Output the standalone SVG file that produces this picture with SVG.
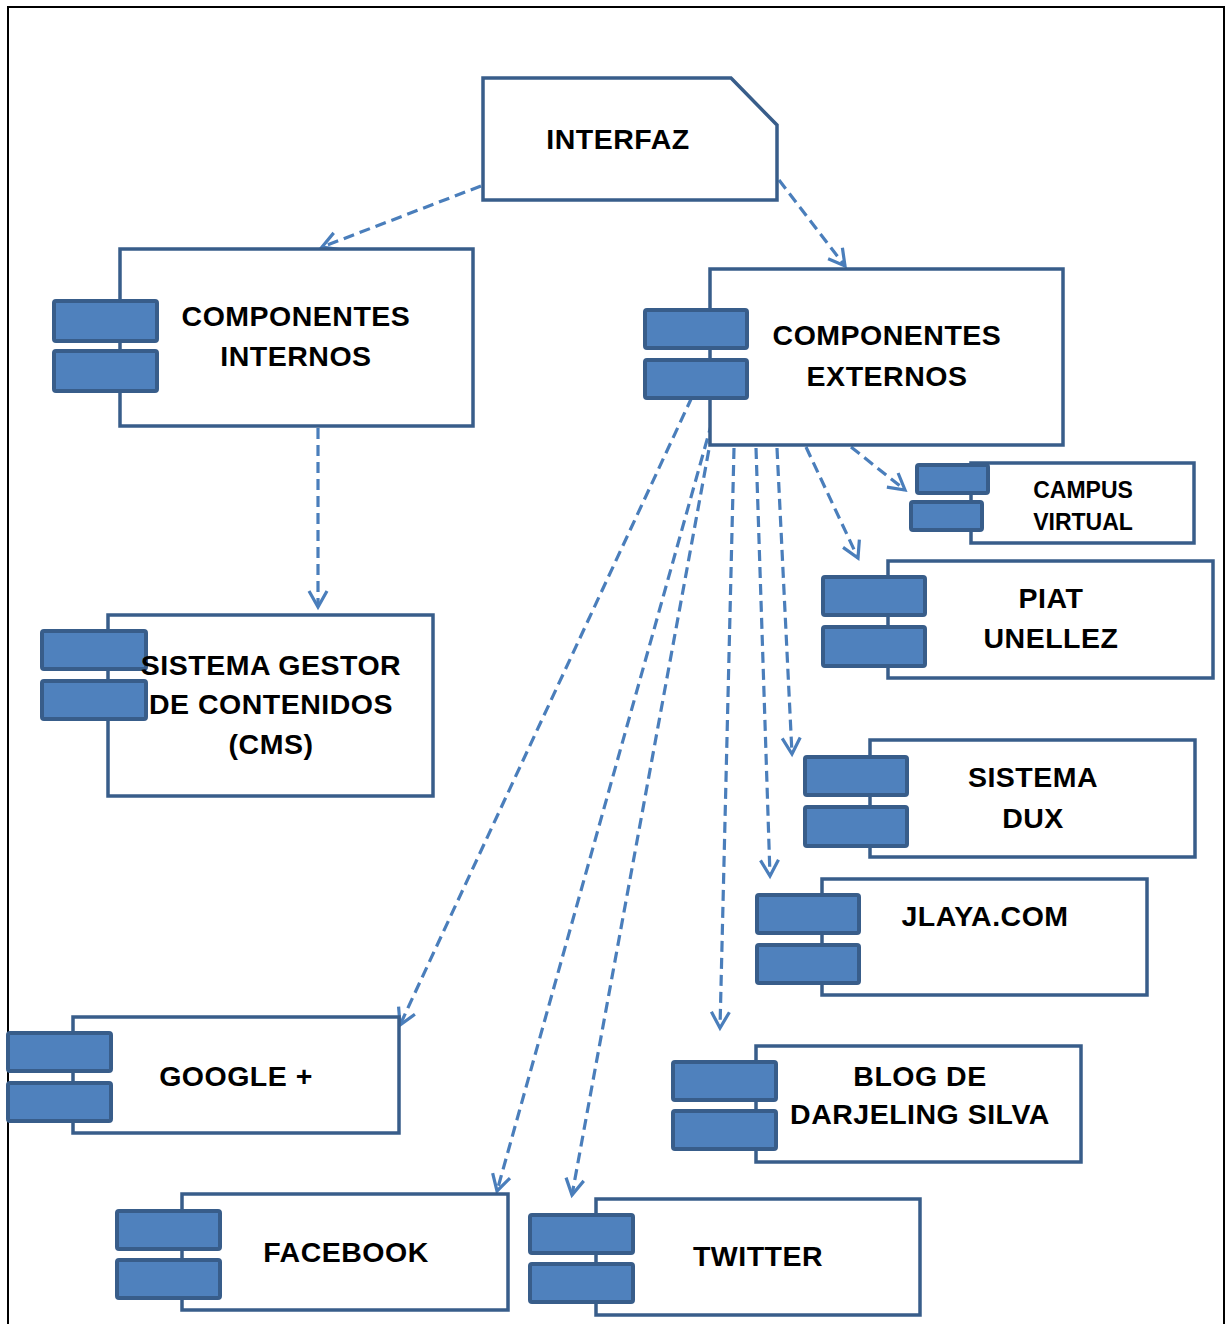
<svg xmlns="http://www.w3.org/2000/svg" width="1227" height="1324" viewBox="0 0 1227 1324">
<style>
.box{fill:#fff;stroke:#385D8A;stroke-width:3.5}
.tab{fill:#4F81BD;stroke:#385D8A;stroke-width:4}
.t{font-family:"Liberation Sans",Arial,sans-serif;font-weight:bold;font-size:28.5px;letter-spacing:0.5px;fill:#000;text-anchor:middle}
.s{font-size:23px;letter-spacing:0}
.c{fill:none;stroke:#4A7EBB;stroke-width:3.2;stroke-dasharray:11 6;marker-end:url(#arr)}
</style>
<defs>
<marker id="arr" markerUnits="userSpaceOnUse" markerWidth="26" markerHeight="26" viewBox="0 0 26 26" refX="18" refY="11" orient="auto">
<path d="M2,2 L18,11 L2,20" fill="none" stroke="#4A7EBB" stroke-width="3.2" stroke-dasharray="none"/>
</marker>
</defs>
<rect width="1227" height="1324" fill="#fff"/>
<path d="M8,1324 V7 H1224 V1324" fill="none" stroke="#000" stroke-width="2"/>

<g id="connectors">
<line class="c" x1="481" y1="186" x2="322" y2="247"/>
<line class="c" x1="779" y1="180" x2="845" y2="266"/>
<line class="c" x1="318" y1="428" x2="318" y2="607"/>
<line class="c" x1="851" y1="447" x2="905" y2="490"/>
<line class="c" x1="806" y1="447" x2="858" y2="558"/>
<line class="c" x1="777" y1="448" x2="792" y2="754"/>
<line class="c" x1="756" y1="448" x2="770" y2="876"/>
<line class="c" x1="734" y1="448" x2="720" y2="1028"/>
<line class="c" x1="692" y1="397" x2="400" y2="1025"/>
<line class="c" x1="712" y1="422" x2="497" y2="1191"/>
<line class="c" x1="718" y1="400" x2="572" y2="1195"/>
</g>

<g id="interfaz">
<path class="box" d="M483,78 H731 L777,125 V200 H483 Z"/>
<text class="t" x="618" y="149">INTERFAZ</text>
</g>

<g id="componentes-internos">
<rect class="box" x="120" y="249" width="353" height="177"/>
<rect class="tab" x="54" y="301" width="103" height="40" rx="2"/>
<rect class="tab" x="54" y="351" width="103" height="40" rx="2"/>
<text class="t" x="296" y="326">COMPONENTES</text>
<text class="t" x="296" y="366">INTERNOS</text>
</g>

<g id="componentes-externos">
<rect class="box" x="710" y="269" width="353" height="176"/>
<rect class="tab" x="645" y="310" width="102" height="38" rx="2"/>
<rect class="tab" x="645" y="360" width="102" height="38" rx="2"/>
<text class="t" x="887" y="345">COMPONENTES</text>
<text class="t" x="887" y="386">EXTERNOS</text>
</g>

<g id="campus-virtual">
<rect class="box" x="971" y="463" width="223" height="80"/>
<rect class="tab" x="917" y="465" width="71" height="28" rx="2"/>
<rect class="tab" x="911" y="502" width="71" height="28" rx="2"/>
<text class="t s" x="1083" y="498">CAMPUS</text>
<text class="t s" x="1083" y="530">VIRTUAL</text>
</g>

<g id="piat-unellez">
<rect class="box" x="888" y="561" width="325" height="117"/>
<rect class="tab" x="823" y="577" width="102" height="38" rx="2"/>
<rect class="tab" x="823" y="627" width="102" height="39" rx="2"/>
<text class="t" x="1051" y="608">PIAT</text>
<text class="t" x="1051" y="648">UNELLEZ</text>
</g>

<g id="sistema-gestor">
<rect class="box" x="108" y="615" width="325" height="181"/>
<rect class="tab" x="42" y="631" width="104" height="38" rx="2"/>
<rect class="tab" x="42" y="681" width="104" height="38" rx="2"/>
<text class="t" x="271" y="675">SISTEMA GESTOR</text>
<text class="t" x="271" y="714">DE CONTENIDOS</text>
<text class="t" x="271" y="754">(CMS)</text>
</g>

<g id="sistema-dux">
<rect class="box" x="870" y="740" width="325" height="117"/>
<rect class="tab" x="805" y="757" width="102" height="38" rx="2"/>
<rect class="tab" x="805" y="807" width="102" height="39" rx="2"/>
<text class="t" x="1033" y="787">SISTEMA</text>
<text class="t" x="1033" y="828">DUX</text>
</g>

<g id="jlaya">
<rect class="box" x="822" y="879" width="325" height="116"/>
<rect class="tab" x="757" y="895" width="102" height="38" rx="2"/>
<rect class="tab" x="757" y="945" width="102" height="38" rx="2"/>
<text class="t" x="985" y="926">JLAYA.COM</text>
</g>

<g id="google">
<rect class="box" x="73" y="1017" width="326" height="116"/>
<rect class="tab" x="8" y="1033" width="103" height="38" rx="2"/>
<rect class="tab" x="8" y="1083" width="103" height="38" rx="2"/>
<text class="t" x="236" y="1086">GOOGLE +</text>
</g>

<g id="blog">
<rect class="box" x="756" y="1046" width="325" height="116"/>
<rect class="tab" x="673" y="1062" width="103" height="38" rx="2"/>
<rect class="tab" x="673" y="1111" width="103" height="38" rx="2"/>
<text class="t" x="920" y="1086">BLOG DE</text>
<text class="t" x="920" y="1124">DARJELING SILVA</text>
</g>

<g id="facebook">
<rect class="box" x="182" y="1194" width="326" height="116"/>
<rect class="tab" x="117" y="1211" width="103" height="38" rx="2"/>
<rect class="tab" x="117" y="1260" width="103" height="38" rx="2"/>
<text class="t" x="346" y="1262">FACEBOOK</text>
</g>

<g id="twitter">
<rect class="box" x="596" y="1199" width="324" height="116"/>
<rect class="tab" x="530" y="1215" width="103" height="38" rx="2"/>
<rect class="tab" x="530" y="1264" width="103" height="38" rx="2"/>
<text class="t" x="758" y="1266">TWITTER</text>
</g>
</svg>
